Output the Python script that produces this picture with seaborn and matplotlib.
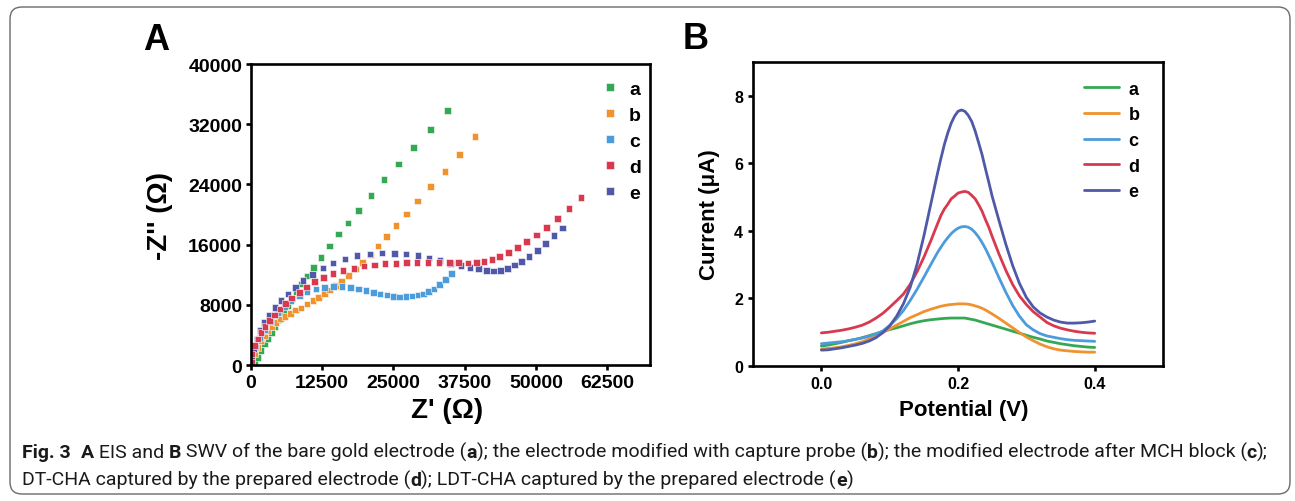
import numpy as np
import pandas as pd
import seaborn as sns
import matplotlib.pyplot as plt
from matplotlib.patches import FancyBboxPatch

# ---------------- A: EIS (Nyquist) ----------------
a_zre = [150, 650, 1220, 1800, 2390, 2970, 3600, 4250, 4950, 5700, 6450, 7200, 7890, 8800, 9850,
         11000, 12250, 13800, 15400, 17050, 18850, 21100, 23350, 25900, 28550, 31500, 34450]
a_zim = [150, 500, 1020, 1900, 2790, 3460, 4300, 5150, 6050, 6950, 7900, 8800, 9750, 10750, 11850,
         12950, 14300, 15800, 17400, 18850, 20550, 22500, 24650, 26700, 28900, 31300, 33800]

b_zre = [175, 640, 1220, 1800, 2390, 2970, 3670, 4430, 5190, 6000, 6940, 7810, 8800, 9790, 10840,
         11840, 12890, 13760, 14860, 15910, 17130, 18410, 19580, 20930, 22300, 23750, 25470, 27280,
         29260, 31480, 34050, 36570, 39310]
b_zim = [570, 1460, 2350, 3230, 3890, 4560, 5140, 5680, 6110, 6470, 6870, 7310, 7580, 8110, 8550,
         9000, 9530, 9970, 10540, 11120, 11870, 12760, 13650, 14620, 15820, 17100, 18520, 20070,
         21790, 23700, 25690, 27950, 30340]

c_zre = [175, 750, 1520, 2390, 3550, 4720, 5890, 7050, 8510, 9840, 11420, 12890, 14510, 15960, 17430,
         18880, 20160, 21500, 22670, 23830, 25000, 26050, 27220, 28270, 29310, 30250, 31170, 32110,
         33040, 34090, 35190]
c_zim = [1200, 2400, 3600, 4700, 5800, 6900, 7750, 8550, 9250, 9800, 10100, 10270, 10410, 10410, 10270,
         10100, 9870, 9660, 9440, 9300, 9080, 9040, 9080, 9170, 9300, 9440, 9740, 10100,
         10670, 11340, 12190]

d_zre = [50, 175, 640, 1220, 1800, 2500, 3270, 4140, 5100, 6020, 7130, 8470, 9700, 11160, 12730,
         14430, 16180, 18050, 19860, 21670, 23540, 25410, 27280, 29150, 31080, 33000, 34870, 36450,
         38080, 39550, 40890, 42290, 43630, 45150, 46730, 48310, 50060, 51810, 53740, 55780, 57940]
d_zim = [400, 1460, 2570, 3460, 4350, 5140, 5890, 6650, 7440, 8200, 8900, 9660, 10370, 11070, 11650,
         12140, 12540, 12850, 13160, 13290, 13510, 13510, 13600, 13640, 13640, 13640, 13600, 13600,
         13560, 13600, 13730, 14000, 14440, 14970, 15640, 16390, 17280, 18300, 19490, 20820, 22280]

e_zre = [50, 520, 1100, 1690, 2390, 3270, 4250, 5300, 6470, 7770, 9170, 10810, 12620, 14430, 16470,
         18570, 20850, 22960, 25150, 27200, 29280, 31240, 33150, 35000, 36830, 38460, 39910, 41280,
         42510, 43820, 44980, 46230, 47450, 48800, 50230, 51640, 53130, 54680]
e_zim = [1020, 2130, 3460, 4560, 5680, 6650, 7670, 8550, 9440, 10280, 11210, 12050, 12890, 13550, 14090,
         14530, 14750, 14880, 14840, 14750, 14530, 14240, 13870, 13500, 13200, 12980, 12850, 12580,
         12490, 12580, 12850, 13290, 13780, 14450, 15190, 16120, 17180, 18230]

# ---------------- B: SWV ----------------
potential = [0.00, 0.01, 0.02, 0.03, 0.04, 0.05, 0.06, 0.07, 0.08, 0.09, 0.10,
             0.11, 0.12, 0.13, 0.14, 0.15, 0.16, 0.17, 0.175, 0.18, 0.185, 0.19, 0.195, 0.20,
             0.205, 0.21, 0.215, 0.22, 0.225, 0.23, 0.235, 0.24, 0.245, 0.25, 0.26, 0.27, 0.28,
             0.29, 0.30, 0.31, 0.32, 0.33, 0.34, 0.35, 0.36, 0.37, 0.38, 0.39, 0.40]
swv_a = [0.59, 0.62, 0.66, 0.70, 0.75, 0.79, 0.84, 0.90, 0.96, 1.02, 1.08,
         1.13, 1.19, 1.25, 1.30, 1.34, 1.37, 1.39, 1.40, 1.41, 1.415, 1.42, 1.42, 1.42,
         1.42, 1.42, 1.40, 1.38, 1.36, 1.33, 1.30, 1.27, 1.24, 1.21, 1.15, 1.09, 1.03,
         0.97, 0.91, 0.85, 0.80, 0.74, 0.70, 0.66, 0.63, 0.60, 0.58, 0.56, 0.55]
swv_b = [0.50, 0.52, 0.54, 0.57, 0.61, 0.66, 0.72, 0.80, 0.89, 0.99, 1.10,
         1.21, 1.32, 1.43, 1.52, 1.61, 1.68, 1.74, 1.77, 1.79, 1.81, 1.82, 1.83, 1.84,
         1.84, 1.84, 1.83, 1.81, 1.78, 1.75, 1.71, 1.66, 1.60, 1.54, 1.41, 1.27, 1.13,
         0.99, 0.86, 0.75, 0.65, 0.57, 0.51, 0.47, 0.45, 0.43, 0.42, 0.41, 0.41]
swv_c = [0.66, 0.68, 0.70, 0.72, 0.75, 0.79, 0.83, 0.88, 0.95, 1.04, 1.20,
         1.40, 1.64, 1.94, 2.27, 2.63, 3.00, 3.36, 3.52, 3.67, 3.80, 3.92, 4.01, 4.08,
         4.12, 4.13, 4.11, 4.05, 3.95, 3.82, 3.66, 3.48, 3.27, 3.06, 2.61, 2.18, 1.79,
         1.47, 1.22, 1.07, 0.96, 0.89, 0.85, 0.81, 0.78, 0.76, 0.75, 0.74, 0.73]
swv_d = [0.98, 1.00, 1.03, 1.06, 1.10, 1.15, 1.21, 1.30, 1.42, 1.56, 1.74,
         1.93, 2.13, 2.42, 2.79, 3.22, 3.70, 4.21, 4.46, 4.65, 4.79, 4.95, 5.03, 5.12,
         5.15, 5.17, 5.14, 5.05, 4.95, 4.78, 4.59, 4.34, 4.11, 3.83, 3.31, 2.83, 2.41,
         2.07, 1.82, 1.61, 1.45, 1.29, 1.19, 1.12, 1.07, 1.03, 1.00, 0.98, 0.97]
swv_e = [0.47, 0.48, 0.51, 0.54, 0.58, 0.62, 0.67, 0.74, 0.84, 0.99, 1.19,
         1.47, 1.84, 2.33, 3.01, 3.85, 4.78, 5.71, 6.15, 6.56, 6.90, 7.19, 7.40, 7.54,
         7.58, 7.54, 7.42, 7.24, 6.96, 6.62, 6.27, 5.85, 5.44, 5.02, 4.30, 3.60, 2.97,
         2.44, 2.03, 1.75, 1.57, 1.45, 1.36, 1.30, 1.27, 1.27, 1.28, 1.30, 1.33]

labels = ['a', 'b', 'c', 'd', 'e']
colors = {'a': '#35a853', 'b': '#f0922e', 'c': '#4c9bdb', 'd': '#d8394e', 'e': '#4f59a8'}

eis_sets = {'a': (a_zre, a_zim), 'b': (b_zre, b_zim), 'c': (c_zre, c_zim),
            'd': (d_zre, d_zim), 'e': (e_zre, e_zim)}
# drawing order (red ends up on top like in the original)
eis = pd.concat([pd.DataFrame({'zre': eis_sets[k][0], 'zim': eis_sets[k][1], 'sample': k})
                 for k in ['a', 'b', 'c', 'e', 'd']], ignore_index=True)

swv_sets = {'a': swv_a, 'b': swv_b, 'c': swv_c, 'd': swv_d, 'e': swv_e}
swv = pd.concat([pd.DataFrame({'E': potential, 'I': swv_sets[k], 'sample': k}) for k in labels],
                ignore_index=True)

# ---------------- style ----------------
sns.set_style('ticks', {'axes.edgecolor': 'black', 'xtick.color': 'black', 'ytick.color': 'black',
                        'text.color': 'black', 'axes.labelcolor': 'black'})
plt.rcParams['font.family'] = ['Liberation Sans', 'DejaVu Sans']
plt.rcParams['font.weight'] = 'bold'
plt.rcParams['axes.labelweight'] = 'bold'
plt.rcParams['axes.linewidth'] = 1.9
for ax_ in ['xtick', 'ytick']:
    plt.rcParams[ax_ + '.major.width'] = 1.9
    plt.rcParams[ax_ + '.major.size'] = 3.8
    plt.rcParams[ax_ + '.direction'] = 'out'

fig = plt.figure(figsize=(12.95, 5.02), dpi=100)
axA = fig.add_axes([0.1938, 0.2709, 0.3081, 0.5996])
axB = fig.add_axes([0.5815, 0.2689, 0.3166, 0.6056])

# ---------------- panel A ----------------
sns.scatterplot(data=eis, x='zre', y='zim', hue='sample', hue_order=labels, palette=colors,
                marker='s', s=22, edgecolor='white', linewidth=0.4, ax=axA)
axA.set_xlim(0, 70000)
axA.set_ylim(0, 40000)
axA.set_xticks([0, 12500, 25000, 37500, 50000, 62500])
axA.set_yticks([0, 8000, 16000, 24000, 32000, 40000])
axA.tick_params(labelsize=14, pad=2.5)
axA.set_xlabel("Z' (Ω)", fontsize=20)
axA.set_ylabel("-Z'' (Ω)", fontsize=20)
axA.xaxis.set_label_coords(0.491, -0.105)
axA.yaxis.set_label_coords(-0.1955, 0.5)
sns.move_legend(axA, 'upper left', bbox_to_anchor=(0.857, 0.978), frameon=False, title=None,
                borderpad=0, handlelength=0.8, handletextpad=0.55, labelspacing=0.43,
                prop={'size': 14, 'weight': 'bold'}, markerscale=1.1)

# ---------------- panel B ----------------
sns.lineplot(data=swv, x='E', y='I', hue='sample', hue_order=labels, palette=colors,
             linewidth=2.0, sort=False, ax=axB)
axB.set_xlim(-0.1, 0.5)
axB.set_ylim(0, 9)
axB.set_xticks([0.0, 0.2, 0.4])
axB.set_xticklabels(['0.0', '0.2', '0.4'])
axB.set_yticks([0, 2, 4, 6, 8])
axB.tick_params(labelsize=11.5, pad=3.5)
axB.set_xlabel('Potential (V)', fontsize=16)
axB.set_ylabel('Current (μA)', fontsize=16)
axB.xaxis.set_label_coords(0.515, -0.11)
axB.yaxis.set_label_coords(-0.08, 0.5)
sns.move_legend(axB, 'upper left', bbox_to_anchor=(0.786, 0.968), frameon=False, title=None,
                borderpad=0, handlelength=1.9, handletextpad=0.55, labelspacing=0.48,
                prop={'size': 13, 'weight': 'bold'})

# panel letters
fig.text(143 / 1295, 1 - 50 / 502, 'A', fontsize=26, va='baseline')
fig.text(683 / 1295, 1 - 49 / 502, 'B', fontsize=26, va='baseline')

# rounded frame around the whole figure
fig.patches.append(FancyBboxPatch((0.10, 0.07), 12.80, 4.87, boxstyle='round,pad=0,rounding_size=0.12',
                                  transform=fig.dpi_scale_trans, fill=False, edgecolor='#6b6b6b',
                                  linewidth=1.0))

# ---------------- caption with bold runs ----------------
cap_font = ['Liberation Sans Narrow', 'Roboto', 'DejaVu Sans']
line1 = [('Fig. 3', 'bold'), ('  ', 'normal'), ('A', 'bold'), (' EIS and ', 'normal'), ('B', 'bold'),
         (' SWV of the bare gold electrode (', 'normal'), ('a', 'bold'),
         ('); the electrode modified with capture probe (', 'normal'), ('b', 'bold'),
         ('); the modified electrode after MCH block (', 'normal'), ('c', 'bold'), (');', 'normal')]
line2 = [('DT-CHA captured by the prepared electrode (', 'normal'), ('d', 'bold'),
         ('); LDT-CHA captured by the prepared electrode (', 'normal'), ('e', 'bold'), (')', 'normal')]

renderer = fig.canvas.get_renderer()


def draw_runs(runs, x0, y0, size):
    x = x0
    texts = []
    for s, w in runs:
        t = fig.text(x / 1295, 1 - y0 / 502, s, fontsize=size, fontweight=w, family=cap_font,
                     va='baseline', ha='left', color='#1a1a1a')
        x += t.get_window_extent(renderer).width
        texts.append(t)
    return x - x0, texts


w, tt = draw_runs(line1, 22, 458, 12)
for t in tt:
    t.remove()
cap_size = 12 * 1236 / w
draw_runs(line1, 22, 458, cap_size)
draw_runs(line2, 22, 486, cap_size)

fig.savefig('out.png', dpi=100)
